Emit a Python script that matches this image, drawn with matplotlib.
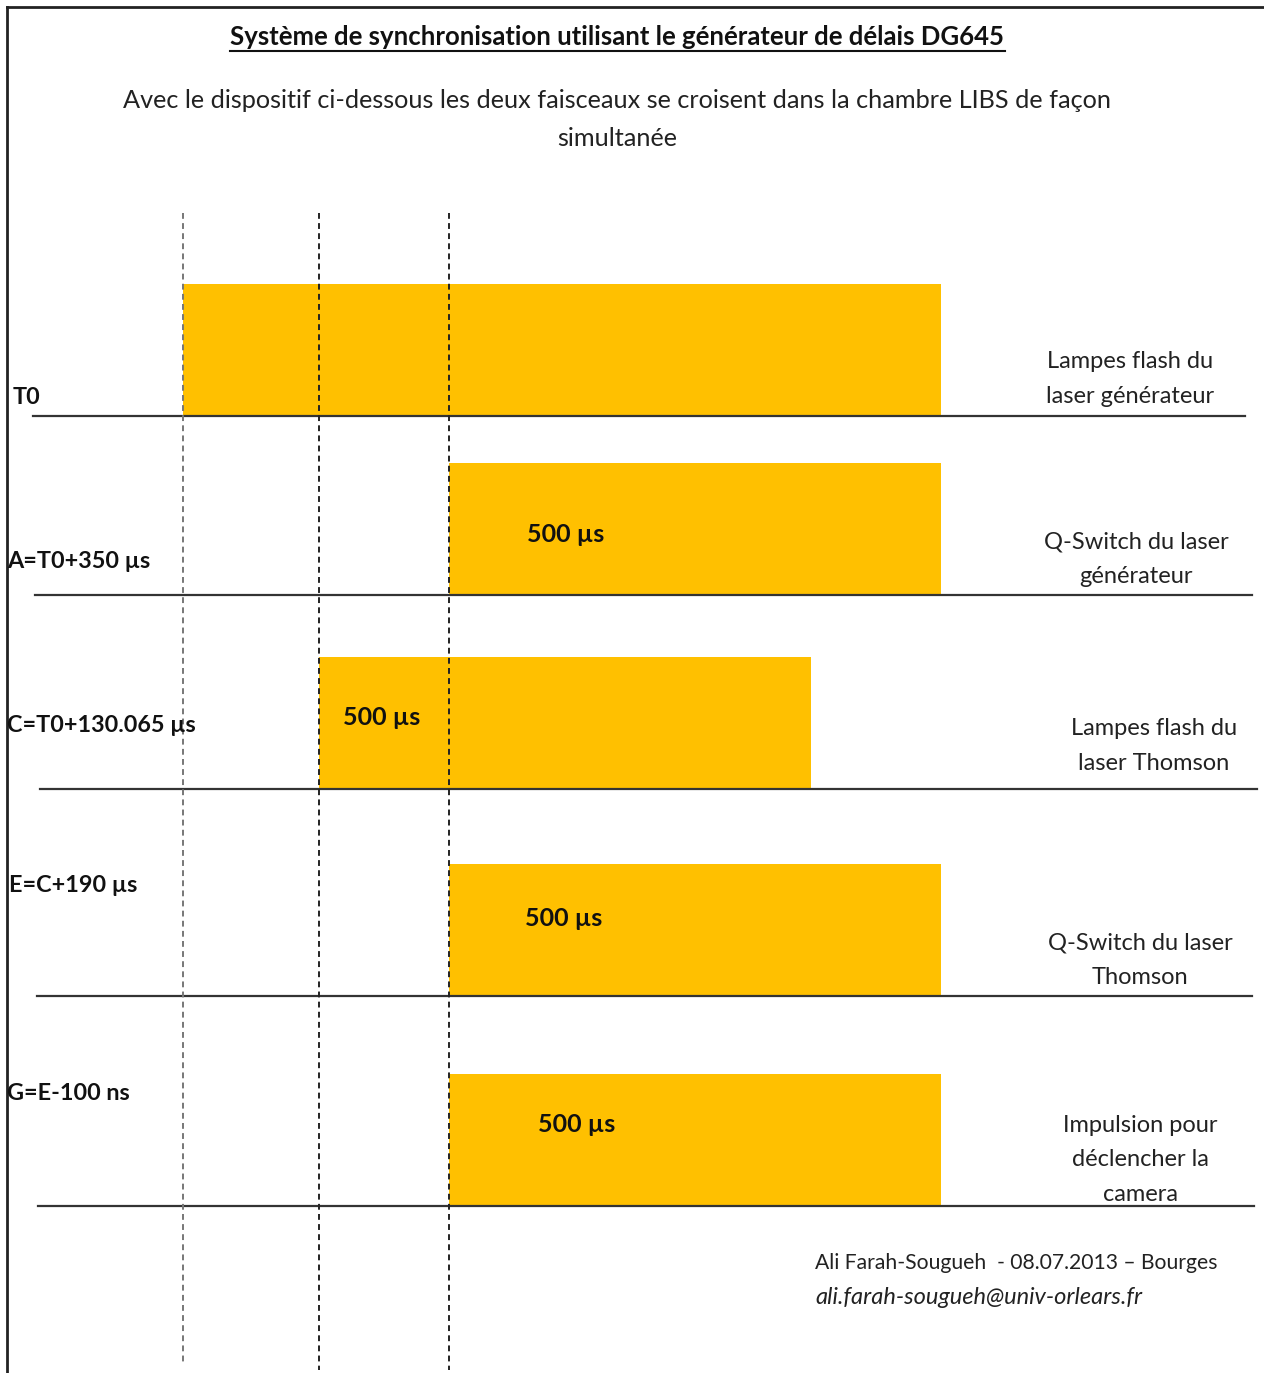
import matplotlib
matplotlib.use("Agg")
import matplotlib.pyplot as plt

# signal rows (schematic time in µs, T0 at 0)
rows = ["T0", "A=T0+350 µs", "C=T0+130.065 µs", "E=C+190 µs", "G=E-100 ns"]
starts = [0, 270, 138, 270, 270]
widths = [770, 500, 500, 500, 500]
pulse_labels = ["", "500 µs", "500 µs", "500 µs", "500 µs"]
descriptions = [
    "Lampes flash du\nlaser générateur",
    "Q-Switch du laser\ngénérateur",
    "Lampes flash du\nlaser Thomson",
    "Q-Switch du laser\nThomson",
    "Impulsion pour\ndéclencher la\ncamera",
]
markers = [0, 138, 270]  # dashed reference times

W, H = 1264, 1373
px_per_us = 0.984
t0_px = 183

# layout (pixels)
baseline_y = [416, 595, 789, 996, 1206]
bar_h = 132
line_x = [(33, 1245), (35, 1252), (40, 1257), (37, 1252), (38, 1254)]
row_label_xy = [(13, 397), (7, 562), (7, 726), (9, 886), (7, 1093)]
pulse_label_xy = [None, (527, 534), (343, 717), (525, 918), (538, 1125)]
desc_xy = [(1130, 379), (1136, 559), (1154, 746), (1140, 960), (1140, 1160)]

YELLOW = "#FFC000"

fig = plt.figure(figsize=(W / 100, H / 100), dpi=100)
ax = fig.add_axes([0, 0, 1, 1])
ax.set_xlim(-t0_px / px_per_us, (W - t0_px) / px_per_us)
ax.set_ylim(H, 0)
ax.axis("off")


def at(x, y):
    return x / W, 1 - y / H


TA = ax.transAxes
font = "Lato"

# border (top and left)
ax.plot([7 / W, 1], [1 - 7 / H, 1 - 7 / H], transform=TA, color="#222222", lw=2)
ax.plot([7 / W, 7 / W], [1 - 7 / H, 0], transform=TA, color="#222222", lw=2)

# title + subtitle
ax.text(*at(617, 37), "Système de synchronisation utilisant le générateur de délais DG645",
        transform=TA, ha="center", va="center", fontsize=18.5, fontweight="bold",
        family=font, color="#111111")
ax.plot([230 / W, 1005 / W], [1 - 51 / H] * 2, transform=TA, color="#111111", lw=1.5)
ax.text(*at(617, 100), "Avec le dispositif ci-dessous les deux faisceaux se croisent dans la chambre LIBS de façon",
        transform=TA, ha="center", va="center", fontsize=18.2, family=font, color="#222222")
ax.text(*at(617, 139), "simultanée", transform=TA, ha="center", va="center",
        fontsize=18.2, family=font, color="#222222")

# pulses
ax.barh([b - bar_h / 2 for b in baseline_y], widths, left=starts, height=bar_h,
        color=YELLOW, edgecolor="none", zorder=2)

# baselines
for (x1, x2), b in zip(line_x, baseline_y):
    ax.plot([x1 / W, x2 / W], [1 - b / H] * 2, transform=TA, color="#333333", lw=1.6, zorder=3)

# dashed markers
for i, t in enumerate(markers):
    col = "#777777" if i == 0 else "#222222"
    y_end = 1362 if i == 0 else 1370
    ax.vlines(t, 213, y_end, colors=col, linestyles=(0, (3, 2.2)), lw=1.4, zorder=4)

# labels
for name, (x, y) in zip(rows, row_label_xy):
    ax.text(*at(x, y), name, transform=TA, ha="left", va="center", fontsize=16.8,
            fontweight="bold", family=font, color="#111111", zorder=5)

for lab, xy in zip(pulse_labels, pulse_label_xy):
    if xy:
        ax.text(*at(*xy), lab, transform=TA, ha="left", va="center", fontsize=18,
                fontweight="bold", family=font, color="#111111", zorder=5)

for d, (x, y) in zip(descriptions, desc_xy):
    ax.text(*at(x, y), d, transform=TA, ha="center", va="center", fontsize=17,
            family=font, color="#222222", linespacing=1.8, zorder=5)

# footer
ax.text(*at(815, 1263), "Ali Farah-Sougueh  - 08.07.2013 – Bourges", transform=TA,
        ha="left", va="center", fontsize=15.2, family=font, color="#222222")
ax.text(*at(815, 1297), "ali.farah-sougueh@univ-orlears.fr", transform=TA,
        ha="left", va="center", fontsize=17, family=font, style="italic", color="#222222")

fig.savefig("out.png", dpi=100)
